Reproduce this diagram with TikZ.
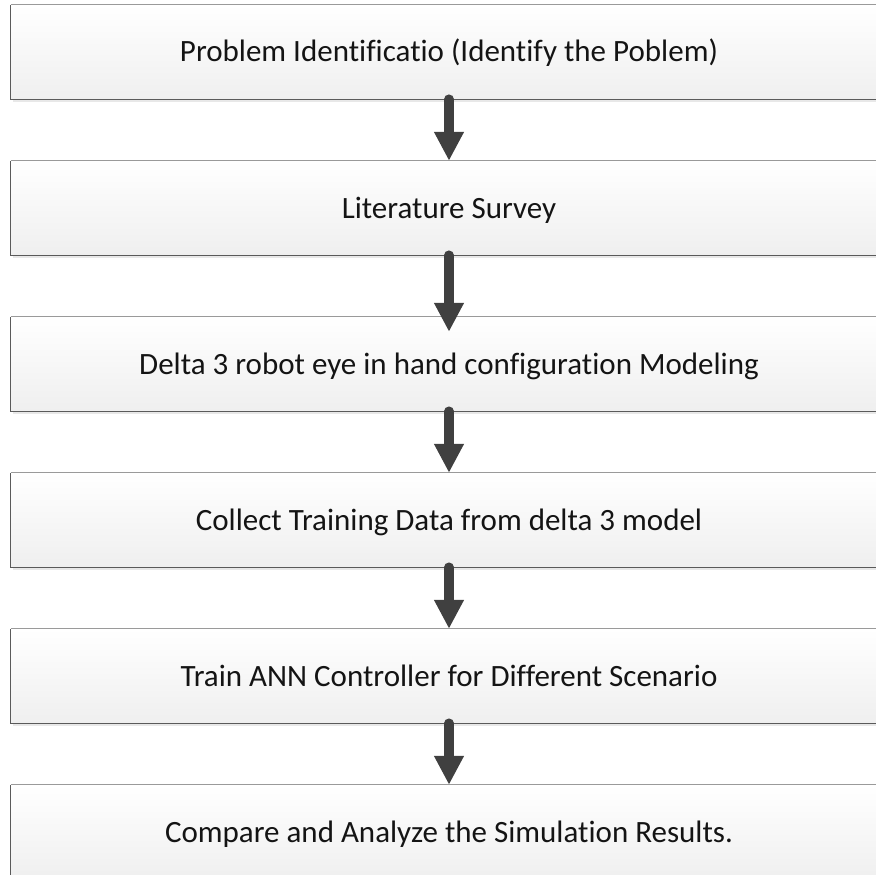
\documentclass[tikz,border=0pt]{standalone}
\usepackage{fontspec}
\setmainfont{Carlito}[Ligatures=NoCommon]
\usetikzlibrary{arrows.meta,shadows}

\definecolor{boxtop}{HTML}{FFFFFF}
\definecolor{boxbottom}{HTML}{EFEFEF}
\definecolor{edgelight}{HTML}{9A9A9A}
\definecolor{edgedark}{HTML}{5A5A5A}
\definecolor{arrowgray}{HTML}{404040}

\tikzset{
  stepbox/.style={
    rectangle, inner sep=0pt,
    minimum width=876pt, minimum height=94pt,
    top color=boxtop, bottom color=boxbottom,
    text height=20pt, text depth=0pt,
    font=\fontsize{31}{36}\selectfont, text=black!92,
    drop shadow={shadow xshift=2pt, shadow yshift=-3pt, fill=black!9, opacity=1}
  },
  toplineedge/.style={draw=edgelight, line width=1.3pt},
  darkedge/.style={draw=edgedark, line width=1.3pt},
  flowarrow/.style={draw=arrowgray, line width=9.5pt, line cap=round,
    -{Triangle[length=29pt 0 0, width=28pt 0 0]}}
}

\begin{document}
\begin{tikzpicture}[x=1pt, y=-1pt]
  \useasboundingbox (0,0) rectangle (876,875);
  \fill[white] (0,0) rectangle (876,875);

  % process steps, top to bottom
  \node[stepbox] (b1) at (449, 52)  {Problem Identificatio (Identify the Poblem)};
  \node[stepbox] (b2) at (449, 208) {Literature Survey};
  \node[stepbox] (b3) at (449, 364) {Delta 3 robot eye in hand configuration Modeling};
  \node[stepbox] (b4) at (449, 520) {Collect Training Data from delta 3 model};
  \node[stepbox] (b5) at (449, 676) {Train ANN Controller for Different Scenario};
  \node[stepbox] (b6) at (449, 832) {Compare and Analyze the Simulation Results.};

  % box borders: light top edge, darker left and bottom edges
  \foreach \b in {b1,b2,b3,b4,b5,b6} {
    \draw[toplineedge] (\b.north west) -- (\b.north east);
    \draw[darkedge] (\b.north west) -- (\b.south west) -- (\b.south east);
  }

  % connectors between consecutive steps
  \draw[flowarrow] (b1.south) -- (b2.north);
  \draw[flowarrow] (b2.south) -- ([yshift=-15pt]b3.north);
  \draw[flowarrow] (b3.south) -- (b4.north);
  \draw[flowarrow] (b4.south) -- (b5.north);
  \draw[flowarrow] (b5.south) -- (b6.north);
\end{tikzpicture}
\end{document}
